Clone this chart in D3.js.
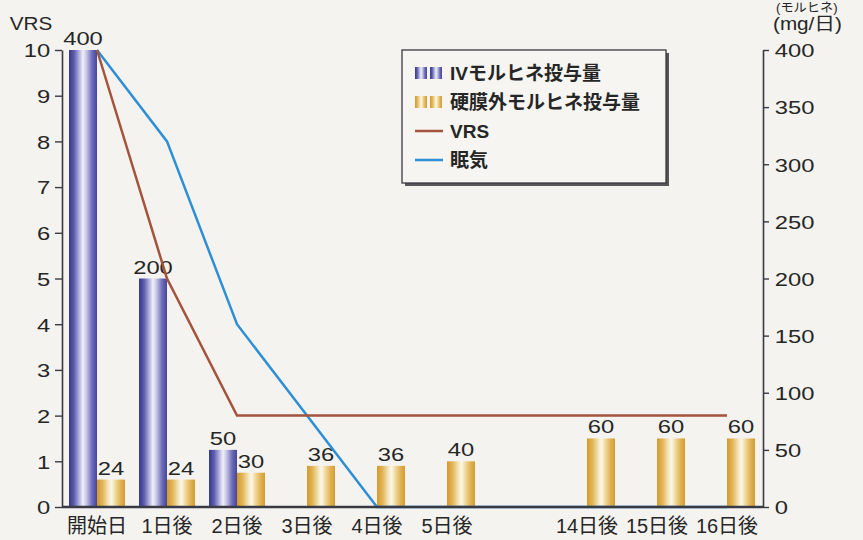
<!DOCTYPE html>
<html>
<head>
<meta charset="utf-8">
<script src="https://cdn.jsdelivr.net/npm/d3@7/dist/d3.min.js"></script>
<style>
body { margin: 0; background: #f4f3ef; }
svg { display: block; font-family: "Liberation Sans", Arial, "Noto Sans CJK JP", sans-serif; }
</style>
</head>
<body>
<svg id="chart"></svg>
<script>
// categories ("" = empty slot between 5日後 and 14日後)
var days = ["開始日", "1日後", "2日後", "3日後", "4日後", "5日後", "", "14日後", "15日後", "16日後"];
// morphine dose (mg/日), right axis
var ivDose  = [400, 200, 50, null, null, null, null, null, null, null];
var epiDose = [24, 24, 30, 36, 36, 40, null, 60, 60, 60];
// scores, left axis
var vrs        = [10, 5, 2, 2, 2, 2, null, 2, 2, 2];
var sleepiness = [10, 8, 4, 2, 0, 0, null, 0, 0, 0];

var leftTicks  = d3.range(0, 11, 1);
var rightTicks = d3.range(0, 401, 50);
var legendItems = ["IVモルヒネ投与量", "硬膜外モルヒネ投与量", "VRS", "眠気"];

var width = 863, height = 540;
var svg = d3.select("#chart").attr("width", width).attr("height", height);

var defs = svg.append("defs");
function grad(id, stops) {
  var g = defs.append("linearGradient").attr("id", id)
    .attr("x1", "0%").attr("x2", "100%").attr("y1", "0%").attr("y2", "0%");
  stops.forEach(function (s) {
    g.append("stop").attr("offset", s[0]).attr("stop-color", s[1]);
  });
}
grad("gIV", [["0%", "#38388a"], ["18%", "#5c5cae"], ["38%", "#b9b8e0"], ["50%", "#f1f0f8"], ["62%", "#c9c7e6"], ["82%", "#6e6dba"], ["100%", "#45459a"]]);
grad("gEpi", [["0%", "#d49a2c"], ["20%", "#e2b558"], ["42%", "#f5e8c2"], ["52%", "#fbf7e8"], ["66%", "#efd89a"], ["85%", "#e0b050"], ["100%", "#d59c30"]]);

var x = d3.scaleBand().domain(days).range([62, 762]).padding(0);
var yL = d3.scaleLinear().domain([0, 10]).range([507, 50]);
var yR = d3.scaleLinear().domain([0, 400]).range([507, 50]);
var barW = 28;
function cx(i) { return x(days[i]) + x.bandwidth() / 2; }

var stretch = 1.25;
var ink = "#262626";

/////////////////// bars ///////////////////
var plot = svg.append("g");

ivDose.forEach(function (v, i) {
  if (v == null) return;
  plot.append("rect")
    .attr("x", cx(i) - barW).attr("y", yR(v))
    .attr("width", barW).attr("height", yR(0) - yR(v))
    .attr("fill", "url(#gIV)");
  plot.append("text")
    .attr("transform", "translate(" + (cx(i) - barW / 2) + "," + (yR(v) - 5) + ") scale(" + stretch + ",1)")
    .attr("text-anchor", "middle")
    .style("font-size", "19px").attr("fill", ink)
    .text(v);
});

epiDose.forEach(function (v, i) {
  if (v == null) return;
  plot.append("rect")
    .attr("x", cx(i)).attr("y", yR(v))
    .attr("width", barW).attr("height", yR(0) - yR(v))
    .attr("fill", "url(#gEpi)");
  plot.append("text")
    .attr("transform", "translate(" + (cx(i) + barW / 2) + "," + (yR(v) - 5) + ") scale(" + stretch + ",1)")
    .attr("text-anchor", "middle")
    .style("font-size", "19px").attr("fill", ink)
    .text(v);
});

/////////////////// lines ///////////////////
function pts(arr) {
  var out = [];
  arr.forEach(function (v, i) { if (v != null) out.push([cx(i), yL(v)]); });
  return out;
}
var line = d3.line();

plot.append("path").attr("d", line(pts(sleepiness)))
  .attr("fill", "none").attr("stroke", "#2e8fd4").attr("stroke-width", 2.5);
plot.append("path").attr("d", line(pts(vrs)))
  .attr("fill", "none").attr("stroke", "#a4533d").attr("stroke-width", 2.5);

/////////////////// axes ///////////////////
var axL = svg.append("g").attr("transform", "translate(62,0)")
  .call(d3.axisLeft(yL).tickValues(leftTicks).tickSize(7).tickSizeOuter(0));
axL.selectAll("text").attr("x", -9.5).attr("dy", "0.36em")
  .attr("transform", "scale(" + stretch + ",1)");

var axR = svg.append("g").attr("transform", "translate(763,0)")
  .call(d3.axisRight(yR).tickValues(rightTicks).tickSize(6).tickSizeOuter(0));
axR.selectAll("text").attr("x", 9.5).attr("dy", "0.36em")
  .attr("transform", "scale(" + stretch + ",1)");

var axB = svg.append("g").attr("transform", "translate(0,507)")
  .call(d3.axisBottom(x).tickSize(0).tickPadding(12));
axB.select(".domain").attr("d", "M62,0H763");

[axL, axR, axB].forEach(function (a) {
  a.select(".domain").attr("stroke", "#3a3a44").attr("stroke-width", 1.6);
  a.selectAll(".tick line").attr("stroke", "#3a3a44").attr("stroke-width", 1.4);
  a.selectAll("text").attr("fill", ink).style("font-size", "19px")
    .style("font-family", '"Liberation Sans", Arial, "Noto Sans CJK JP", sans-serif');
});
axB.select(".domain").attr("stroke-width", 2.6);
axB.selectAll("text").style("font-size", "20px");

// axis titles
svg.append("text")
  .attr("transform", "translate(31,30) scale(1.15,1)")
  .attr("text-anchor", "middle").style("font-size", "18px").attr("fill", ink)
  .text("VRS");
svg.append("text")
  .attr("transform", "translate(776,12) scale(1.1,1)")
  .style("font-size", "12px").attr("fill", ink)
  .text("(モルヒネ)");
svg.append("text")
  .attr("transform", "translate(773,30) scale(1.15,1)")
  .style("font-size", "18px").attr("fill", ink)
  .text("(mg/日)");

/////////////////// legend ///////////////////
var lg = svg.append("g").attr("transform", "translate(402,50)");
lg.append("rect").attr("x", 3).attr("y", 3).attr("width", 264).attr("height", 133).attr("fill", "#55555a");
lg.append("rect").attr("width", 264).attr("height", 133)
  .attr("fill", "#f6f5f1").attr("stroke", "#3a3a40").attr("stroke-width", 1.3);

var rowY = [23, 52, 81, 110];
legendItems.forEach(function (name, i) {
  var y = rowY[i];
  if (i < 2) {
    [13, 28].forEach(function (sx) {
      lg.append("rect").attr("x", sx).attr("y", y - 6).attr("width", 12).attr("height", 12)
        .attr("fill", i == 0 ? "url(#gIV)" : "url(#gEpi)");
    });
  } else {
    lg.append("line").attr("x1", 13).attr("x2", 41).attr("y1", y).attr("y2", y)
      .attr("stroke", i == 2 ? "#a4533d" : "#2e8fd4").attr("stroke-width", 2.5);
  }
  lg.append("text").attr("x", 48).attr("y", y).attr("dy", "0.36em")
    .style("font-size", "19px").style("font-weight", "bold").attr("fill", ink)
    .text(name);
});
</script>
</body>
</html>
